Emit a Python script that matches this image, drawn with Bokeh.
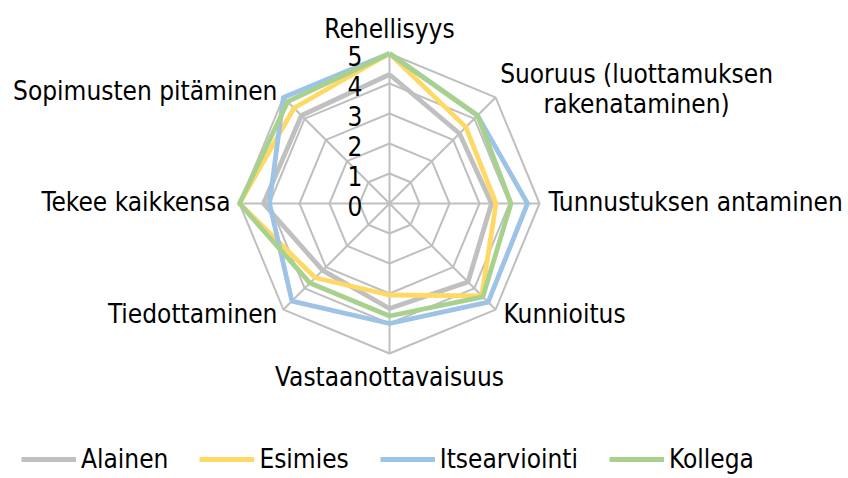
import numpy as np
from bokeh.plotting import figure
from bokeh.models import Range1d
from bokeh.core.properties import value
from bokeh.embed import file_html
from bokeh.resources import INLINE

# ---- data ----
categories = ["Rehellisyys", "Suoruus (luottamuksen\nrakenataminen)", "Tunnustuksen antaminen",
              "Kunnioitus", "Vastaanottavaisuus", "Tiedottaminen", "Tekee kaikkensa",
              "Sopimusten pitäminen"]
alainen = [4.3, 3.3, 3.4, 3.7, 3.5, 3.15, 4.2, 4.15]
esimies = [5.0, 3.6, 3.55, 4.35, 3.05, 3.5, 5.0, 4.5]
itsearviointi = [5.0, 4.15, 4.6, 4.65, 4.0, 4.6, 4.0, 5.0]
kollega = [5.0, 4.15, 4.05, 4.4, 3.75, 3.75, 5.0, 4.8]
series_names = ["Alainen", "Esimies", "Itsearviointi", "Kollega"]
tick_values = [0, 1, 2, 3, 4, 5]
tick_labels = ["0", "1", "2", "3", "4", "5"]

colors = ["#C0C0C0", "#FFD966", "#9DC3E6", "#A9D18E"]
FONT = "DejaVu Sans Condensed"
FS = "26px"

W, H = 844, 474
CX, CY, PX = 389, 203, 30.0   # centre in page pixels, pixels per unit

n = len(categories)
theta = np.arange(n) * 2 * np.pi / n
sx, cy = np.sin(theta), np.cos(theta)
rmax = max(tick_values)

p = figure(width=W, height=H, output_backend="svg", toolbar_location=None,
           x_range=Range1d(-CX / PX, (W - CX) / PX),
           y_range=Range1d((CY - H) / PX, CY / PX),
           min_border=0, outline_line_color=None)
p.axis.visible = False
p.grid.visible = False
p.background_fill_color = None
p.border_fill_color = None

grid_color = "#BFBFBF"
ring_xs = [list(np.append(t * sx, t * sx[0])) for t in tick_values[1:]]
ring_ys = [list(np.append(t * cy, t * cy[0])) for t in tick_values[1:]]
p.multi_line(ring_xs, ring_ys, line_color=grid_color, line_width=2)
p.multi_line([[0, rmax * a] for a in sx], [[0, rmax * b] for b in cy],
             line_color=grid_color, line_width=2)

for name, vals, col in zip(series_names, [alainen, esimies, itsearviointi, kollega], colors):
    v = np.array(vals)
    xs = list(np.append(v * sx, v[0] * sx[0]))
    ys = list(np.append(v * cy, v[0] * cy[0]))
    p.line(xs, ys, line_color=col, line_width=4.8, line_join="round", legend_label=name)

p.text(x=[0] * len(tick_values), y=tick_values, text=tick_labels, text_align="right",
       text_baseline="middle", x_offset=-27, y_offset=2, text_font=value(FONT),
       text_font_size=FS, text_color="#000000")

aligns = ["center", "center", "left", "left", "center", "right", "right", "right"]
baselines = ["bottom", "middle", "middle", "middle", "top", "middle", "middle", "middle"]
xoff = [0, 141, 9, 8, 0, -6, -9, -6]
yoff = [-10, -8, -2, 4, 8, 4, -2, -6]
lx = list(rmax * sx)
ly = list(rmax * cy)
for i in range(n):
    p.text(x=[lx[i]], y=[ly[i]], text=[categories[i]], text_align=aligns[i],
           text_baseline=baselines[i], x_offset=xoff[i], y_offset=yoff[i],
           text_font=value(FONT), text_font_size=FS, text_color="#000000",
           text_line_height=1.0)

lg = p.legend[0]
lg.orientation = "horizontal"
lg.location = (21, 0)
lg.label_text_font = FONT
lg.label_text_font_size = FS
lg.label_text_color = "#000000"
lg.glyph_width = 55
lg.glyph_height = 20
lg.label_height = 20
lg.label_standoff = 5
lg.spacing = 31
lg.padding = 0
lg.margin = 0
lg.border_line_color = None
lg.background_fill_alpha = 0

open("out.html", "w").write(file_html(p, INLINE))
